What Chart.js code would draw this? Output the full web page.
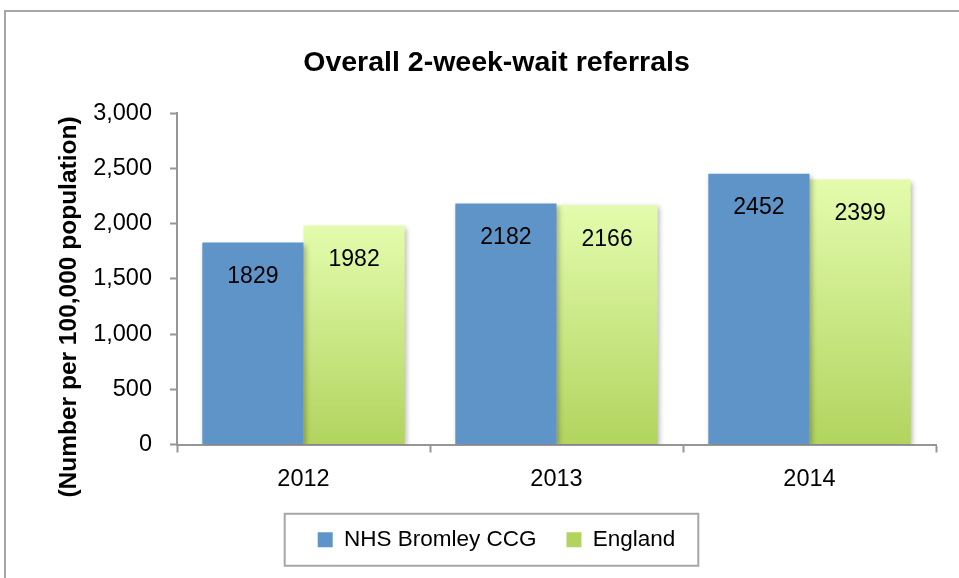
<!DOCTYPE html>
<html lang="en">
<head>
    <meta charset="UTF-8">
    <title>Overall 2-week-wait referrals</title>
    <script src="https://cdn.jsdelivr.net/npm/chart.js"></script>
    <style>
        body {
            margin: 0;
            background: white;
            overflow: hidden;
        }
        .frame {
            position: absolute;
            left: 4px;
            top: 10px;
            width: 980px;
            height: 600px;
            border: 2px solid #a6a6a6;
        }
        .chart-box {
            position: absolute;
            left: 0;
            top: 0;
            width: 959px;
            height: 578px;
        }
    </style>
</head>
<body>
    <div class="frame"></div>
    <div class="chart-box">
        <canvas id="referralsChart" width="959" height="578"></canvas>
    </div>
    <script>
        const years = ["2012", "2013", "2014"];
        const bromleyValues = [1829, 2182, 2452];
        const englandValues = [1982, 2166, 2399];
        const yTicks = [0, 500, 1000, 1500, 2000, 2500, 3000];
        const yTitle = "(Number per 100,000 population)";

        const axisGrey = "#969696";
        const labelFont = "'Liberation Sans', Arial, sans-serif";

        // green bars fade from pale at the top to a deeper green at the base
        function englandFill(context) {
            const chart = context.chart;
            if (!chart.chartArea || context.type !== "data") return "#cfe993";
            const y = chart.scales.y;
            const top = y.getPixelForValue(context.raw);
            const bottom = y.getPixelForValue(0);
            const g = chart.ctx.createLinearGradient(0, top, 0, bottom);
            g.addColorStop(0, "#e3fcad");
            g.addColorStop(1, "#b2d45f");
            return g;
        }

        const barShadow = {
            id: "barShadow",
            beforeDatasetDraw(chart) {
                const ctx = chart.ctx;
                ctx.save();
                ctx.shadowColor = "rgba(0,0,0,0.28)";
                ctx.shadowBlur = 5;
                ctx.shadowOffsetX = 2;
                ctx.shadowOffsetY = 2;
            },
            afterDatasetDraw(chart) {
                chart.ctx.restore();
            }
        };

        const valueLabels = {
            id: "valueLabels",
            afterDatasetsDraw(chart) {
                const ctx = chart.ctx;
                ctx.save();
                ctx.font = "23px " + labelFont;
                ctx.fillStyle = "#000";
                ctx.textAlign = "center";
                ctx.textBaseline = "middle";
                chart.data.datasets.forEach(function (ds, i) {
                    chart.getDatasetMeta(i).data.forEach(function (bar, j) {
                        ctx.fillText(String(ds.data[j]), bar.x, bar.y + 34);
                    });
                });
                ctx.restore();
            }
        };

        // y title drawn by hand so it can sit lower than the axis middle, like the original
        const sideTitle = {
            id: "sideTitle",
            afterDraw(chart) {
                const ctx = chart.ctx;
                ctx.save();
                ctx.translate(chart.scales.y.left + 12, 307);
                ctx.rotate(-Math.PI / 2);
                ctx.font = "bold 24.5px " + labelFont;
                ctx.fillStyle = "#000";
                ctx.textAlign = "center";
                ctx.textBaseline = "middle";
                ctx.fillText(yTitle, 0, 0);
                ctx.restore();
            }
        };

        const legendFrame = {
            id: "legendFrame",
            afterDraw(chart) {
                const boxes = chart.legend.legendHitBoxes;
                if (!boxes || !boxes.length) return;
                let minX = Infinity, maxX = -Infinity, cy = 0;
                boxes.forEach(function (b) {
                    minX = Math.min(minX, b.left);
                    maxX = Math.max(maxX, b.left + b.width);
                    cy += b.top + b.height / 2;
                });
                cy /= boxes.length;
                const ctx = chart.ctx;
                ctx.save();
                ctx.strokeStyle = "#a6a6a6";
                ctx.lineWidth = 2;
                ctx.strokeRect(minX - 33, cy - 26, (maxX - minX) + 56, 52);
                ctx.restore();
            }
        };

        new Chart(document.getElementById("referralsChart"), {
            type: "bar",
            data: {
                labels: years,
                datasets: [
                    {
                        label: "NHS Bromley CCG",
                        data: bromleyValues,
                        backgroundColor: "#5f94c8",
                        categoryPercentage: 0.8,
                        barPercentage: 1.0
                    },
                    {
                        label: "England",
                        data: englandValues,
                        backgroundColor: englandFill,
                        categoryPercentage: 0.8,
                        barPercentage: 1.0
                    }
                ]
            },
            options: {
                responsive: false,
                animation: false,
                layout: { padding: { left: 57, right: 23, top: 30, bottom: 17 } },
                plugins: {
                    title: {
                        display: true,
                        text: "Overall 2-week-wait referrals",
                        color: "#000",
                        font: { family: labelFont, size: 28.5, weight: "bold" },
                        padding: { top: 16, bottom: 33 }
                    },
                    legend: {
                        position: "bottom",
                        labels: {
                            color: "#000",
                            font: { family: labelFont, size: 22.5 },
                            boxWidth: 15,
                            boxHeight: 15,
                            padding: 30
                        }
                    },
                    tooltip: { enabled: false }
                },
                scales: {
                    x: {
                        afterFit(scale) {
                            scale.height = 54;
                        },
                        grid: {
                            offset: true,
                            drawOnChartArea: false,
                            tickLength: 8,
                            tickWidth: 2,
                            tickColor: axisGrey
                        },
                        border: { color: axisGrey, width: 2 },
                        ticks: {
                            color: "#000",
                            font: { family: labelFont, size: 23.5 },
                            padding: 13
                        }
                    },
                    y: {
                        min: 0,
                        max: 3000,
                        afterBuildTicks(scale) {
                            scale.ticks = yTicks.map(function (v) { return { value: v }; });
                        },
                        afterFit(scale) {
                            scale.width = 120;
                        },
                        grid: {
                            drawOnChartArea: false,
                            tickLength: 7,
                            tickWidth: 2,
                            tickColor: axisGrey
                        },
                        border: { color: axisGrey, width: 2 },
                        ticks: {
                            color: "#000",
                            font: { family: labelFont, size: 23.5 },
                            padding: 18,
                            callback: function (v) { return Number(v).toLocaleString("en-US"); }
                        }
                    }
                }
            },
            plugins: [barShadow, valueLabels, sideTitle, legendFrame]
        });
    </script>
</body>
</html>
